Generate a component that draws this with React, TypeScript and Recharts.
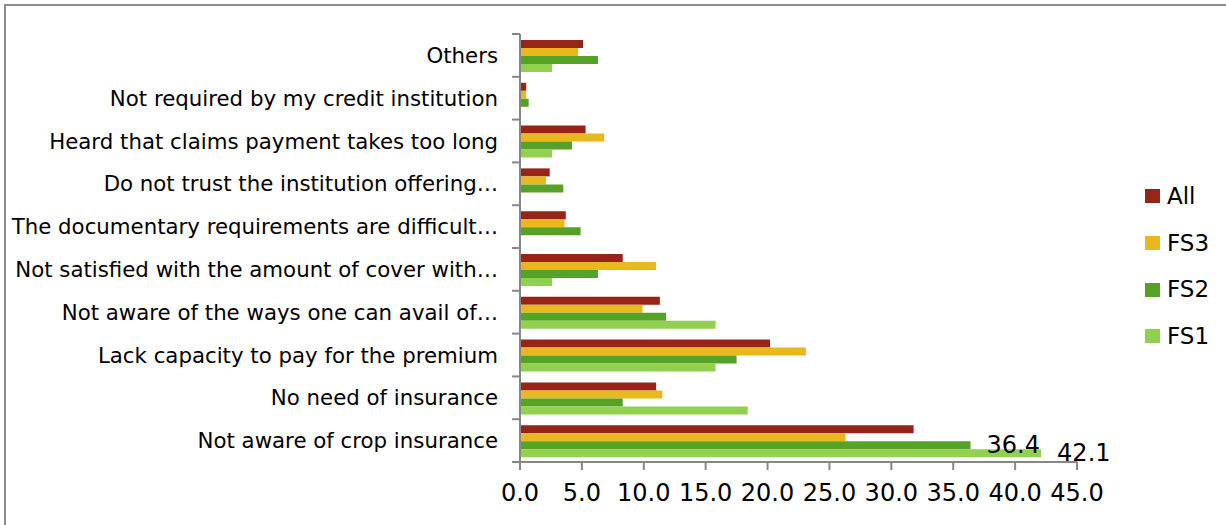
import React from 'react';
import { BarChart, Bar, XAxis, YAxis, Legend, LabelList } from 'recharts';

const categories = [
  'Others',
  'Not required by my credit institution',
  'Heard that claims payment takes too long',
  'Do not trust the institution offering…',
  'The documentary requirements are difficult…',
  'Not satisfied with the amount of cover with…',
  'Not aware of the ways one can avail of…',
  'Lack capacity to pay for the premium',
  'No need of insurance',
  'Not aware of crop insurance',
];

const allValues = [5.1, 0.5, 5.3, 2.4, 3.7, 8.3, 11.3, 20.2, 11.0, 31.8];
const fs3Values = [4.7, 0.5, 6.8, 2.1, 3.6, 11.0, 9.9, 23.1, 11.5, 26.3];
const fs2Values = [6.3, 0.7, 4.2, 3.5, 4.9, 6.3, 11.8, 17.5, 8.3, 36.4];
const fs1Values = [2.6, 0, 2.6, 0, 0, 2.6, 15.8, 15.8, 18.4, 42.1];

const xTicks = [0, 5, 10, 15, 20, 25, 30, 35, 40, 45];
const labelledCategory = 'Not aware of crop insurance';

const seriesNames = ['All', 'FS3', 'FS2', 'FS1'];
const seriesKeys = ['all', 'fs3', 'fs2', 'fs1'];
const seriesColors = ['#962418', '#E8B81E', '#55A226', '#92D050'];

const data = categories.map((category, i) => ({
  category,
  all: allValues[i],
  fs3: fs3Values[i],
  fs2: fs2Values[i],
  fs1: fs1Values[i],
  fs2Label: category === labelledCategory ? fs2Values[i] : null,
  fs1Label: category === labelledCategory ? fs1Values[i] : null,
}));

const FONT = '"DejaVu Sans", sans-serif';
const AXIS_GREY = '#878787';

const CategoryTick = (props: any) => {
  const { x, y, payload, index, visibleTicksCount } = props;
  const half = payload && typeof payload.offset === 'number' ? payload.offset : 0;
  return (
    <g>
      <line x1={x - 8} x2={x} y1={y - half} y2={y - half} stroke={AXIS_GREY} strokeWidth={2} />
      {index === visibleTicksCount - 1 && (
        <line x1={x - 8} x2={x} y1={y + half} y2={y + half} stroke={AXIS_GREY} strokeWidth={2} />
      )}
      <text
        x={x - 22}
        y={y}
        textAnchor="end"
        dominantBaseline="central"
        fontFamily={FONT}
        fontSize={21.3}
        fill="#000"
      >
        {payload.value}
      </text>
    </g>
  );
};

const renderValueLabel = (props: any) => {
  const { x, y, width, height, value } = props;
  if (value === null || value === undefined || value === '') return null;
  return (
    <text
      x={Number(x) + Number(width) + 16}
      y={Number(y) + Number(height) / 2}
      dominantBaseline="central"
      fontFamily={FONT}
      fontSize={24}
      fill="#000"
    >
      {Number(value).toFixed(1)}
    </text>
  );
};

const renderLegend = () => (
  <div style={{ fontFamily: FONT }}>
    {seriesNames.map((name, i) => (
      <div
        key={name}
        style={{ height: 46.7, display: 'flex', alignItems: 'center' }}
      >
        <span
          style={{
            display: 'inline-block',
            width: 15,
            height: 14,
            background: seriesColors[i],
            marginRight: 7,
          }}
        />
        <span style={{ fontSize: 23, color: '#000', lineHeight: '23px' }}>{name}</span>
      </div>
    ))}
  </div>
);

export default function App() {
  return (
    <div
      style={{
        position: 'absolute',
        left: 0,
        top: 0,
        width: 1226,
        height: 525,
        background: '#fff',
        overflow: 'hidden',
      }}
    >
      <div
        style={{
          position: 'absolute',
          left: 4,
          top: 4,
          width: 1222,
          height: 521,
          borderLeft: '2px solid #8c8c8c',
          borderTop: '2px solid #8c8c8c',
          boxSizing: 'border-box',
        }}
      />
      <div style={{ position: 'absolute', left: 0, top: 0 }}>
        <BarChart
          width={1226}
          height={525}
          data={data}
          layout="vertical"
          margin={{ top: 34, right: 149, bottom: 0, left: 0 }}
          barCategoryGap="14%"
          barGap={0}
        >
          <XAxis
            type="number"
            domain={[0, 45]}
            ticks={xTicks}
            interval={0}
            height={63}
            tickSize={8}
            tickMargin={14}
            tickFormatter={(v: number) => v.toFixed(1)}
            axisLine={{ stroke: AXIS_GREY, strokeWidth: 2 }}
            tickLine={{ stroke: AXIS_GREY, strokeWidth: 2 }}
            tick={{ fontFamily: FONT, fontSize: 24, fill: '#000' }}
          />
          <YAxis
            type="category"
            dataKey="category"
            width={520}
            interval={0}
            tickSize={0}
            tickMargin={0}
            tickLine={false}
            axisLine={{ stroke: AXIS_GREY, strokeWidth: 2 }}
            tick={<CategoryTick />}
          />
          <Legend
            layout="vertical"
            align="center"
            verticalAlign="middle"
            wrapperStyle={{ left: 1145, top: 173, width: 80 }}
            content={renderLegend}
          />
          {seriesKeys.map((key, i) => (
            <Bar
              key={key}
              dataKey={key}
              name={seriesNames[i]}
              fill={seriesColors[i]}
              isAnimationActive={false}
            >
              {(key === 'fs2' || key === 'fs1') && (
                <LabelList dataKey={`${key}Label`} content={renderValueLabel} />
              )}
            </Bar>
          ))}
        </BarChart>
      </div>
    </div>
  );
}
